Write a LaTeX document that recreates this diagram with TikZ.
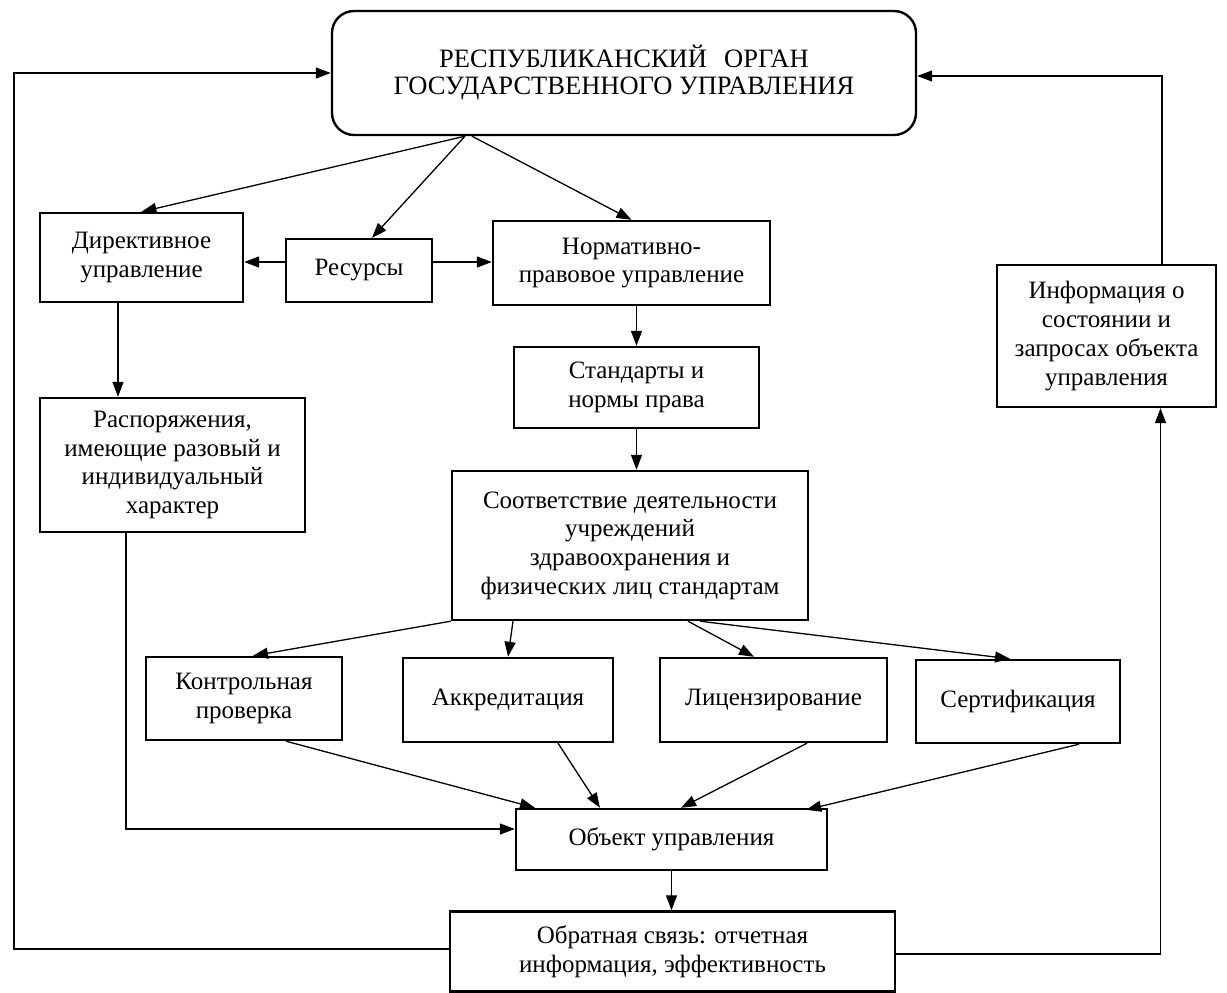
\documentclass[tikz,border=0pt]{standalone}
\usepackage{fontspec}
\setmainfont{Liberation Serif}
\usetikzlibrary{arrows.meta,calc}
\begin{document}
\begin{tikzpicture}[x=1pt,y=-1pt,
  box/.style={draw, line width=2.4pt, align=center, inner sep=0pt, font=\fontsize{25}{28.7}\selectfont},
  con/.style={line width=1.3pt, -{Triangle[length=15pt,width=11pt]}},
  ln/.style={line width=1.3pt}]
\useasboundingbox (0,0) rectangle (1227,993);
% boxes
\node[box, rounded corners=22pt, minimum width=584pt, minimum height=124pt, font=\fontsize{26.5}{27}\selectfont] (top) at (624,73) {РЕСПУБЛИКАНСКИЙ\hspace{0.4em} ОРГАН\\ГОСУДАРСТВЕННОГО УПРАВЛЕНИЯ};
\node[box, minimum width=203pt, minimum height=89pt] (dir) at (141.5,257.5) {Директивное\\управление};
\node[box, minimum width=146pt, minimum height=63pt] (res) at (359,270.5) {Ресурсы};
\node[box, minimum width=277pt, minimum height=84pt] (norm) at (631.5,263) {Нормативно-\\правовое управление};
\node[box, minimum width=245pt, minimum height=81pt] (stand) at (636.5,387.5) {Стандарты и\\нормы права};
\node[box, minimum width=219pt, minimum height=142pt] (info) at (1106.5,336) {Информация о\\состоянии и\\запросах объекта\\управления};
\node[box, minimum width=265pt, minimum height=134pt] (rasp) at (172.5,465) {Распоряжения,\\имеющие разовый и\\индивидуальный\\характер};
\node[box, minimum width=356pt, minimum height=149pt] (sootv) at (630,545.5) {Соответствие деятельности\\учреждений\\здравоохранения и\\физических лиц стандартам};
\node[box, minimum width=196pt, minimum height=83pt] (kontr) at (244,698.5) {Контрольная\\проверка};
\node[box, minimum width=210pt, minimum height=84pt] (akkr) at (508,700) {Аккредитация};
\node[box, minimum width=227pt, minimum height=84pt] (lic) at (773.5,700) {Лицензирование};
\node[box, minimum width=204pt, minimum height=83pt] (sert) at (1018,701.5) {Сертификация};
\node[box, minimum width=311pt, minimum height=61pt] (obj) at (671.5,839.5) {Объект управления};
\node[box, minimum width=445pt, minimum height=80pt] (obr) at (672.5,951.5) {Обратная связь: отчетная\\информация, эффективность};
% connectors from top
\coordinate (ts) at ([xshift=-159pt]top.south);
\coordinate (ts2) at ([xshift=-152pt]top.south);
\draw[con] (ts) -- (dir.north);
\draw[con] (ts) -- ([xshift=13pt]res.north);
\draw[con] (ts2) -- (norm.north);
% resources
\coordinate (rw) at ([yshift=8.5pt]res.west);
\coordinate (re) at ([yshift=8.5pt]res.east);
\draw[con] (rw) -- (rw -| dir.east);
\draw[con] (re) -- (re -| norm.west);
% normative chain
\draw[con] (stand.north |- norm.south) -- (stand.north);
\draw[con] (stand.south) -- (stand.south |- sootv.north);
% directive chain
\coordinate (ds) at ([xshift=-23.5pt]dir.south);
\draw[con] (ds) -- (ds |- rasp.north);
\draw[con] ([xshift=-46.5pt]rasp.south) |- ([yshift=10.5pt]obj.west);
% from sootv
\draw[con] (sootv.south west) -- ([xshift=9pt]kontr.north);
\draw[con] ([xshift=-117pt]sootv.south) -- (akkr.north);
\draw[con] ([xshift=58pt]sootv.south) -- ([xshift=-19.5pt]lic.north);
\draw[con] ([xshift=70pt]sootv.south) -- ([xshift=-8pt]sert.north);
% to object
\draw[con] ([xshift=42pt]kontr.south) -- ([xshift=-136.5pt]obj.north);
\draw[con] ([xshift=50pt]akkr.south) -- ([xshift=-71.5pt]obj.north);
\draw[con] ([xshift=33.5pt]lic.south) -- ([xshift=9.5pt]obj.north);
\draw[con] ([xshift=61pt]sert.south) -- ([xshift=-22pt,yshift=-2pt]obj.north east);
\draw[con] (obj.south) -- (obj.south |- obr.north);
% feedback loops
\coordinate (lft) at (14,500);
\coordinate (ow) at ([yshift=2.5pt]obr.west);
\draw[con] (ow) -- (ow -| lft) -- (lft |- top.west) -- (top.west);
\draw[con] ([yshift=-2.5pt]obr.east) -| ([xshift=54pt]info.south);
\draw[con] ([xshift=55.5pt]info.north) |- ([yshift=-3pt]top.east);
\end{tikzpicture}
\end{document}
